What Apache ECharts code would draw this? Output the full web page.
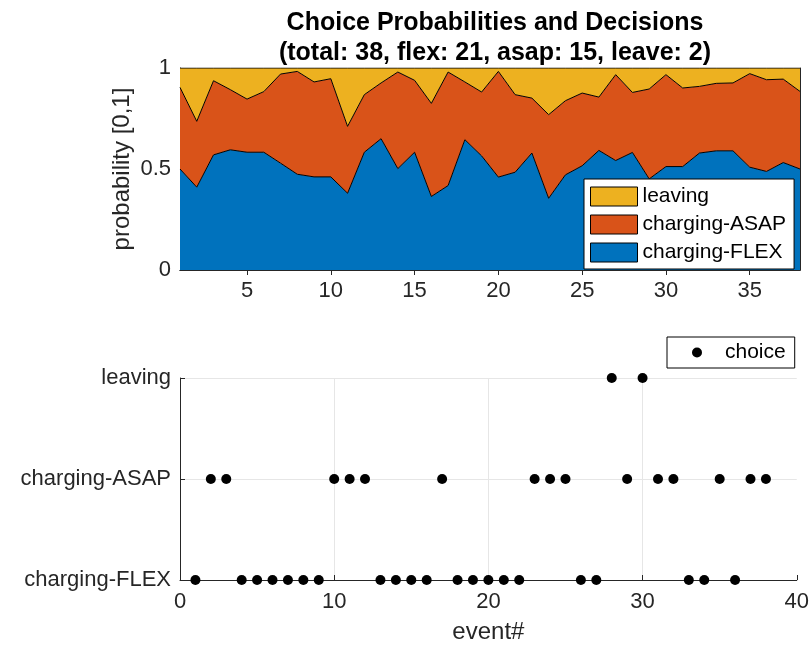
<!DOCTYPE html>
<html>
<head>
<meta charset="utf-8">
<script src="https://cdn.jsdelivr.net/npm/echarts@6/dist/echarts.min.js"></script>
<style>html,body{margin:0;padding:0;background:#fff}#c{width:812px;height:647px}</style>
</head>
<body>
<div id="c"></div>
<script>
var events = [1,2,3,4,5,6,7,8,9,10,11,12,13,14,15,16,17,18,19,20,21,22,23,24,25,26,27,28,29,30,31,32,33,34,35,36,37,38];
var probFlex = [0.500,0.410,0.570,0.595,0.583,0.583,0.529,0.474,0.461,0.461,0.380,0.583,0.650,0.502,0.583,0.364,0.418,0.645,0.565,0.460,0.484,0.579,0.355,0.471,0.516,0.592,0.542,0.582,0.451,0.512,0.512,0.579,0.590,0.590,0.509,0.488,0.532,0.500];
var probAsap = [0.404,0.326,0.367,0.298,0.263,0.300,0.441,0.509,0.470,0.486,0.331,0.285,0.276,0.478,0.356,0.461,0.562,0.286,0.316,0.523,0.384,0.272,0.414,0.367,0.360,0.264,0.425,0.297,0.445,0.455,0.389,0.330,0.334,0.336,0.463,0.454,0.413,0.384];
var probLeave = [0.096,0.264,0.063,0.107,0.154,0.117,0.030,0.017,0.069,0.053,0.289,0.132,0.074,0.020,0.061,0.175,0.020,0.069,0.119,0.017,0.132,0.149,0.231,0.162,0.124,0.144,0.033,0.121,0.104,0.033,0.099,0.091,0.076,0.074,0.028,0.058,0.055,0.116];
var choices = ['charging-FLEX','charging-ASAP','charging-ASAP','charging-FLEX','charging-FLEX','charging-FLEX','charging-FLEX','charging-FLEX','charging-FLEX','charging-ASAP',
  'charging-ASAP','charging-ASAP','charging-FLEX','charging-FLEX','charging-FLEX','charging-FLEX','charging-ASAP','charging-FLEX','charging-FLEX','charging-FLEX',
  'charging-FLEX','charging-FLEX','charging-ASAP','charging-ASAP','charging-ASAP','charging-FLEX','charging-FLEX','leaving','charging-ASAP','leaving',
  'charging-ASAP','charging-ASAP','charging-FLEX','charging-FLEX','charging-ASAP','charging-FLEX','charging-ASAP','charging-ASAP'];
var choiceLevels = ['charging-FLEX','charging-ASAP','leaving'];
var topXTickStep = 5;
var titleLines = ['Choice Probabilities and Decisions','(total: 38, flex: 21, asap: 15, leave: 2)'];

var FONT = '"Liberation Sans", Arial, Helvetica, sans-serif';
var AX = '#262626';
var GRIDC = '#e6e6e6';

var categories = events.map(String);
var choiceData = events.map(function(x,i){ return [x, choiceLevels.indexOf(choices[i]) + 1]; });
function showEvery(i, v){ return Number(v) % topXTickStep === 0; }

var chart = echarts.init(document.getElementById('c'), null, {renderer:'canvas'});
var tickStyle = {show:true, inside:true, length:5, lineStyle:{color:AX, width:1}};
var lineStyle = {show:true, lineStyle:{color:AX, width:1}};
var labelStyle = {color:AX, fontSize:22, fontFamily:FONT};

chart.setOption({
  animation:false,
  textStyle:{fontFamily:FONT},
  title:{
    text: titleLines.join('\n'),
    left: 490, top: 3, textAlign:'center',
    textStyle:{fontSize:25, fontWeight:'bold', color:'#000', lineHeight:30, fontFamily:FONT}
  },
  grid:[
    {left:180, top:68, width:620, height:202},
    {left:180, top:378, width:620, height:202}
  ],
  legend:[
    {
      data:['leaving','charging-ASAP','charging-FLEX'],
      orient:'vertical', left:584, top:179,
      padding:[7,8,6,6], itemGap:7, itemWidth:47, itemHeight:19,
      icon:'rect',
      itemStyle:{borderColor:'#000', borderWidth:1},
      backgroundColor:'#fff', borderColor:'#000', borderWidth:1, borderRadius:0,
      textStyle:{fontSize:21, color:'#000', fontFamily:FONT, lineHeight:19},
      selectedMode:false
    },
    {
      data:['choice'],
      left:667, top:337,
      padding:[5,9,5,25], itemWidth:10, itemHeight:10, icon:'circle',
      backgroundColor:'#fff', borderColor:'#000', borderWidth:1, borderRadius:0,
      textStyle:{fontSize:21, color:'#000', fontFamily:FONT, padding:[0,0,0,18]},
      selectedMode:false
    }
  ],
  xAxis:[
    {type:'category', gridIndex:0, data:categories, boundaryGap:false, position:'bottom',
     axisLine:lineStyle, axisTick:Object.assign({interval:showEvery}, tickStyle),
     axisLabel:Object.assign({interval:showEvery, margin:10}, labelStyle),
     splitLine:{show:false}},
    {type:'category', gridIndex:0, data:categories, boundaryGap:false, position:'top',
     axisLine:lineStyle, axisTick:Object.assign({interval:showEvery}, tickStyle),
     axisLabel:{show:false}, splitLine:{show:false}},
    {type:'value', gridIndex:1, min:0, max:40, interval:10, position:'bottom',
     axisLine:lineStyle, axisTick:tickStyle,
     axisLabel:Object.assign({margin:11}, labelStyle),
     splitLine:{show:true, showMinLine:false, showMaxLine:false, lineStyle:{color:GRIDC, width:1}},
     name:'event#', nameLocation:'middle', nameGap:40, nameMoveOverlap:false,
     nameTextStyle:{fontSize:24, color:AX, fontFamily:FONT}}
  ],
  yAxis:[
    {type:'value', gridIndex:0, min:0, max:1, interval:0.5, position:'left',
     axisLine:lineStyle, axisTick:tickStyle,
     axisLabel:Object.assign({margin:9, formatter:function(v){return String(v);}}, labelStyle),
     splitLine:{show:false},
     name:'probability [0,1]', nameLocation:'middle', nameGap:46, nameRotate:90, nameMoveOverlap:false,
     nameTextStyle:{fontSize:24, color:AX, fontFamily:FONT}},
    {type:'value', gridIndex:0, min:0, max:1, interval:0.5, position:'right',
     axisLine:lineStyle, axisTick:tickStyle, axisLabel:{show:false}, splitLine:{show:false}},
    {type:'value', gridIndex:1, min:1, max:3, interval:1, position:'left',
     axisLine:lineStyle, axisTick:tickStyle,
     axisLabel:Object.assign({margin:9, formatter:function(v){return choiceLevels[v-1] || '';}}, labelStyle),
     splitLine:{show:true, showMinLine:false, lineStyle:{color:GRIDC, width:1}}}
  ],
  series:[
    {name:'charging-FLEX', type:'line', xAxisIndex:0, yAxisIndex:0, stack:'p',
     data:probFlex, symbol:'none', silent:true,
     itemStyle:{color:'#0072BD'}, lineStyle:{color:'#000', width:1},
     areaStyle:{color:'#0072BD', opacity:1}},
    {name:'charging-ASAP', type:'line', xAxisIndex:0, yAxisIndex:0, stack:'p',
     data:probAsap, symbol:'none', silent:true,
     itemStyle:{color:'#D95319'}, lineStyle:{color:'#000', width:1},
     areaStyle:{color:'#D95319', opacity:1}},
    {name:'leaving', type:'line', xAxisIndex:0, yAxisIndex:0, stack:'p',
     data:probLeave, symbol:'none', silent:true,
     itemStyle:{color:'#EDB120'}, lineStyle:{color:'#000', width:1},
     areaStyle:{color:'#EDB120', opacity:1}},
    {name:'choice', type:'scatter', xAxisIndex:2, yAxisIndex:2,
     data:choiceData, symbol:'circle', symbolSize:10, silent:true,
     itemStyle:{color:'#000', opacity:1}}
  ]
});
</script>
</body>
</html>
